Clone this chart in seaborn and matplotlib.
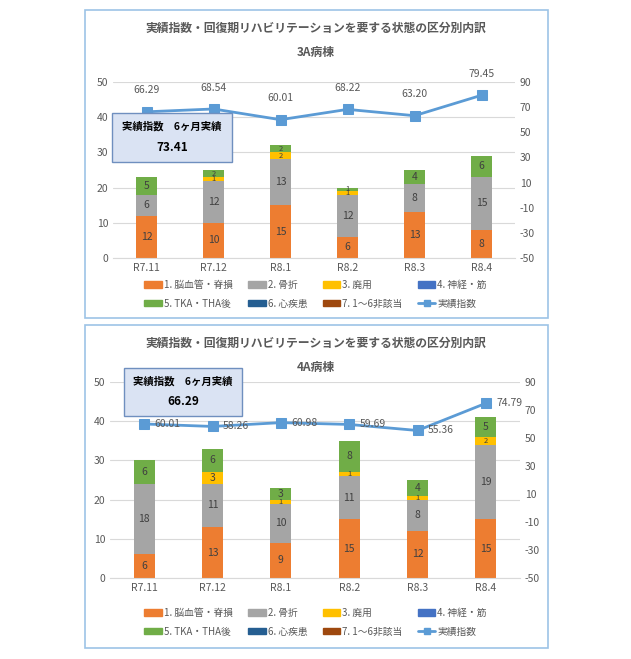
import numpy as np
import pandas as pd
import matplotlib
matplotlib.use('Agg')
import matplotlib.pyplot as plt
import seaborn as sns
from matplotlib.patches import Rectangle, Patch
from matplotlib.lines import Line2D

sns.set_style('white')
plt.rcParams['font.family'] = ['Noto Sans CJK JP', 'DejaVu Sans']
plt.rcParams['axes.unicode_minus'] = False

months = ['R7.11', 'R7.12', 'R8.1', 'R8.2', 'R8.3', 'R8.4']
# 3A病棟
a3_brain = [12, 10, 15, 6, 13, 8]
a3_bone = [6, 12, 13, 12, 8, 15]
a3_disuse = [0, 1, 2, 1, 0, 0]
a3_tka = [5, 2, 2, 1, 4, 6]
a3_index = [66.29, 68.54, 60.01, 68.22, 63.20, 79.45]
a3_avg = '73.41'
# 4A病棟
a4_brain = [6, 13, 9, 15, 12, 15]
a4_bone = [18, 11, 10, 11, 8, 19]
a4_disuse = [0, 3, 1, 1, 1, 2]
a4_tka = [6, 6, 3, 8, 4, 5]
a4_index = [60.01, 58.26, 60.98, 59.69, 55.36, 74.79]
a4_avg = '66.29'

legend_names = ['1. 脳血管・脊損', '2. 骨折', '3. 廃用', '4. 神経・筋',
                '5. TKA・THA後', '6. 心疾患', '7. 1～6非該当', '実績指数']
cols = ['#ed7d31', '#a5a5a5', '#ffc000', '#4472c4', '#70ad47', '#255e91', '#9e480e']
line_col = '#5b9bd5'
txt_col = '#595959'
title = '実績指数・回復期リハビリテーションを要する状態の区分別内訳'

fig = plt.figure(figsize=(6.31, 6.59), dpi=100)
W, H = 631, 659


def fr(x0, y0, x1, y1):
    return [x0 / W, 1 - y1 / H, (x1 - x0) / W, (y1 - y0) / H]


def panel(box, frame, ward, brain, bone, disuse, tka, idx, avg, infobox, lbl_right, legy):
    fig.add_artist(Rectangle((frame[0], frame[1]), frame[2], frame[3], transform=fig.transFigure,
                             fill=False, edgecolor='#9dc3e6', lw=1.2))
    ax = fig.add_axes(box)
    df = pd.DataFrame({'month': months, 'brain': brain, 'bone': bone, 'disuse': disuse, 'tka': tka})
    bottom = np.zeros(len(months))
    for key, c in zip(['brain', 'bone', 'disuse', 'tka'], [cols[0], cols[1], cols[2], cols[4]]):
        sns.barplot(data=df, x='month', y=key, color=c, width=0.31, bottom=bottom,
                    saturation=1, ax=ax, order=months, linewidth=0)
        for i, v in enumerate(df[key]):
            if v > 0:
                fs = 5.5 if v <= 2 else 7.5
                ax.text(i, bottom[i] + v / 2, str(v), ha='center', va='center', fontsize=fs, color='#404040')
        bottom = bottom + df[key].values
    ax.set_ylim(0, 50)
    ax.set_yticks(range(0, 51, 10))
    ax.set_xlim(-0.5, 5.5)
    ax.set_xlabel('')
    ax.set_ylabel('')
    ax.grid(axis='y', color='#d9d9d9', lw=0.8)
    ax.set_axisbelow(True)
    for s in ax.spines.values():
        s.set_visible(False)
    ax.spines['bottom'].set_visible(True)
    ax.spines['bottom'].set_color('#d9d9d9')
    ax.tick_params(colors=txt_col, labelsize=7.5, length=0)

    ax2 = ax.twinx()
    sns.lineplot(x=np.arange(len(months)), y=idx, color=line_col, lw=2, marker='s',
                 markersize=7, markeredgecolor=line_col, ax=ax2)
    ax2.set_ylim(-50, 90)
    ax2.set_yticks(range(-50, 91, 20))
    ax2.tick_params(colors=txt_col, labelsize=7.5, length=0)
    for s in ax2.spines.values():
        s.set_visible(False)
    for i, v in enumerate(idx):
        if lbl_right:
            ax2.text(i + 0.15, v, f'{v:.2f}', ha='left', va='center', fontsize=7.5, color=txt_col)
        else:
            ax2.text(i, v + 17, f'{v:.2f}', ha='center', va='center', fontsize=7.5, color=txt_col)

    ax.text(0.5, frame[1] + frame[3] - 22 / H, title, transform=fig.transFigure, ha='center',
            fontsize=8.5, fontweight='bold', color=txt_col)
    ax.text(0.5, frame[1] + frame[3] - 46 / H, ward, transform=fig.transFigure, ha='center',
            fontsize=8.5, fontweight='bold', color=txt_col)

    bx = fr(*infobox)
    fig.add_artist(Rectangle((bx[0], bx[1]), bx[2], bx[3], transform=fig.transFigure,
                             facecolor='#dae3f3', edgecolor='#6f8fbf', lw=1))
    fig.text(bx[0] + bx[2] / 2, bx[1] + bx[3] * 0.72, '実績指数　6ヶ月実績', ha='center', va='center',
             fontsize=7.5, fontweight='bold', color='black')
    fig.text(bx[0] + bx[2] / 2, bx[1] + bx[3] * 0.3, avg, ha='center', va='center',
             fontsize=8.5, fontweight='bold', color='black')

    handles = [Patch(color=c) for c in cols] + [Line2D([], [], color=line_col, marker='s', lw=2, markersize=4)]
    order = [0, 4, 1, 5, 2, 6, 3, 7]
    fig.legend([handles[i] for i in order], [legend_names[i] for i in order], ncol=4,
               loc='upper center', bbox_to_anchor=(0.5, 1 - legy / H), frameon=False,
               fontsize=7, labelcolor=txt_col, handlelength=1.8, handleheight=0.6,
               columnspacing=1.6, handletextpad=0.2, borderaxespad=0, labelspacing=0.9)


panel(fr(113, 82, 515, 258), fr(85, 10, 548, 318), '3A病棟', a3_brain, a3_bone, a3_disuse, a3_tka,
      a3_index, a3_avg, (112, 113, 232, 162), False, 276)
panel(fr(110, 382, 520, 578), fr(85, 325, 548, 648), '4A病棟', a4_brain, a4_bone, a4_disuse, a4_tka,
      a4_index, a4_avg, (124, 368, 242, 416), True, 604)

fig.savefig('out.png', dpi=100)
